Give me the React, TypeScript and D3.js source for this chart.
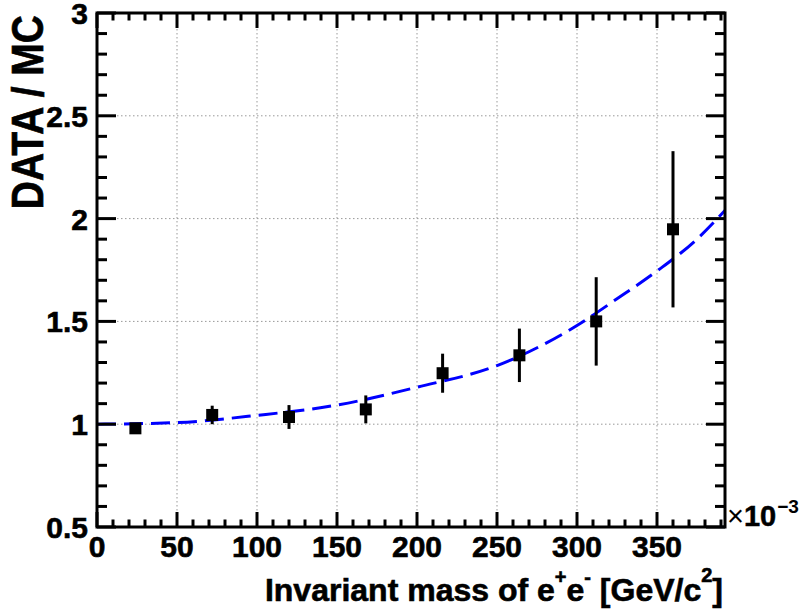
import React from "react";
import * as d3 from "d3";

// Data (x in units of 10^-3 GeV/c^2)
const massBins = [24, 72, 120, 168, 216, 264, 312, 360];
const ratio = [0.98, 1.045, 1.035, 1.072, 1.248, 1.335, 1.5, 1.948];
const ratioErr = [0.015, 0.045, 0.058, 0.068, 0.095, 0.13, 0.215, 0.38];

// Fit curve points
const fitMass = [0, 50, 100, 150, 200, 250, 300, 325, 350, 375, 392.5];
const fitRatio = [1.0, 1.008, 1.043, 1.093, 1.18, 1.285, 1.48, 1.61, 1.745, 1.9, 2.04];

const xMajorTicks = [0, 50, 100, 150, 200, 250, 300, 350];
const yMajorTicks = [0.5, 1, 1.5, 2, 2.5, 3];
const yTickLabels = ["0.5", "1", "1.5", "2", "2.5", "3"];

const W = 802;
const H = 611;
const L = 97, R = 725, T = 13, B = 527;
const FONT = "'Liberation Sans', Arial, Helvetica, sans-serif";

export default function App() {
  const x = d3.scaleLinear().domain([0, 392.5]).range([L, R]);
  const y = d3.scaleLinear().domain([0.5, 3]).range([B, T]);

  const xMinor = d3.range(0, 392.5, 10);
  const yMinor = d3.range(0.5, 3.0001, 0.1);

  const line = d3
    .line<number>()
    .x((_, i) => x(fitMass[i]))
    .y((d) => y(d))
    .curve(d3.curveMonotoneX);

  const fitPath = line(fitRatio) || "";

  return (
    <div style={{ position: "absolute", left: 0, top: 0 }}>
      <svg width={W} height={H} style={{ display: "block", background: "#fff" }}>
        <defs>
          <clipPath id="frameClip">
            <rect x={L} y={T} width={R - L} height={B - T} />
          </clipPath>
        </defs>
        <rect x={0} y={0} width={W} height={H} fill="#fff" />
        {/* grid */}
        <g stroke="#999" strokeWidth={1} strokeDasharray="1.5 2.5">
          {xMajorTicks.filter((v) => v > 0).map((v) => (
            <line key={"gx" + v} x1={x(v)} x2={x(v)} y1={T} y2={B} />
          ))}
          {yMajorTicks.filter((v) => v > 0.5 && v < 3).map((v) => (
            <line key={"gy" + v} x1={L} x2={R} y1={y(v)} y2={y(v)} />
          ))}
        </g>
        {/* fit curve */}
        <path
          d={fitPath}
          fill="none"
          stroke="#0000ff"
          strokeWidth={3}
          strokeDasharray="19 8"
          clipPath="url(#frameClip)"
        />
        {/* data */}
        <g>
          {massBins.map((m, i) => (
            <g key={"p" + i}>
              <line
                x1={x(m)}
                x2={x(m)}
                y1={y(ratio[i] + ratioErr[i])}
                y2={y(ratio[i] - ratioErr[i])}
                stroke="#000"
                strokeWidth={3}
              />
              <rect x={x(m) - 6} y={y(ratio[i]) - 6} width={12} height={12} fill="#000" />
            </g>
          ))}
        </g>
        {/* ticks */}
        <g stroke="#000" strokeWidth={3}>
          {xMinor.map((v) => {
            const major = Math.abs(v % 50) < 1e-6;
            const len = major ? 15 : 7.5;
            return (
              <g key={"xt" + v}>
                <line x1={x(v)} x2={x(v)} y1={B} y2={B - len} />
                <line x1={x(v)} x2={x(v)} y1={T} y2={T + len} />
              </g>
            );
          })}
          {yMinor.map((v, i) => {
            const major = i % 5 === 0;
            const len = major ? 19 : 10;
            return (
              <g key={"yt" + i}>
                <line x1={L} x2={L + len} y1={y(v)} y2={y(v)} />
                <line x1={R} x2={R - len} y1={y(v)} y2={y(v)} />
              </g>
            );
          })}
        </g>
        {/* frame */}
        <rect x={L} y={T} width={R - L} height={B - T} fill="none" stroke="#000" strokeWidth={3} />
        {/* tick labels */}
        <g fontFamily={FONT} fontWeight="bold" fontSize={30} fill="#000" stroke="#000" strokeWidth={0.6}>
          {xMajorTicks.map((v) => (
            <text key={"xl" + v} x={x(v)} y={557} textAnchor="middle">
              {v}
            </text>
          ))}
          {yMajorTicks.map((v, i) => (
            <text key={"yl" + v} x={88} y={y(v) + 11} textAnchor="end">
              {yTickLabels[i]}
            </text>
          ))}
        </g>
        {/* exponent */}
        <text x={727} y={526} fontFamily={FONT} fill="#000" style={{ fontSize: "29px" }}>
          <tspan style={{ fontWeight: 400 }}>×</tspan>
          <tspan style={{ fontWeight: 700 }} stroke="#000" strokeWidth={0.5}>10</tspan>
          <tspan style={{ fontWeight: 700, fontSize: "19px" }} dy={-13} dx={1}>−3</tspan>
        </text>
        {/* axis titles */}
        <text
          x={723}
          y={601}
          textAnchor="end"
          fontFamily={FONT}
          fontWeight="bold"
          fontSize={32}
          fill="#000"
          stroke="#000"
          strokeWidth={0.6}
        >
          Invariant mass of e
          <tspan fontSize={20} dy={-17}>+</tspan>
          <tspan dy={17}>e</tspan>
          <tspan fontSize={20} dy={-17}>-</tspan>
          <tspan dy={17}> [GeV/c</tspan>
          <tspan fontSize={20} dy={-19}>2</tspan>
          <tspan dy={19}>]</tspan>
        </text>
        <text
          transform={`translate(43,15) rotate(-90) scale(1,1.12)`}
          textAnchor="end"
          fontFamily={FONT}
          fontWeight="bold"
          fontSize={39}
          fill="#000"
          stroke="#000"
          strokeWidth={0.6}
        >
          DATA / MC
        </text>
      </svg>
    </div>
  );
}
